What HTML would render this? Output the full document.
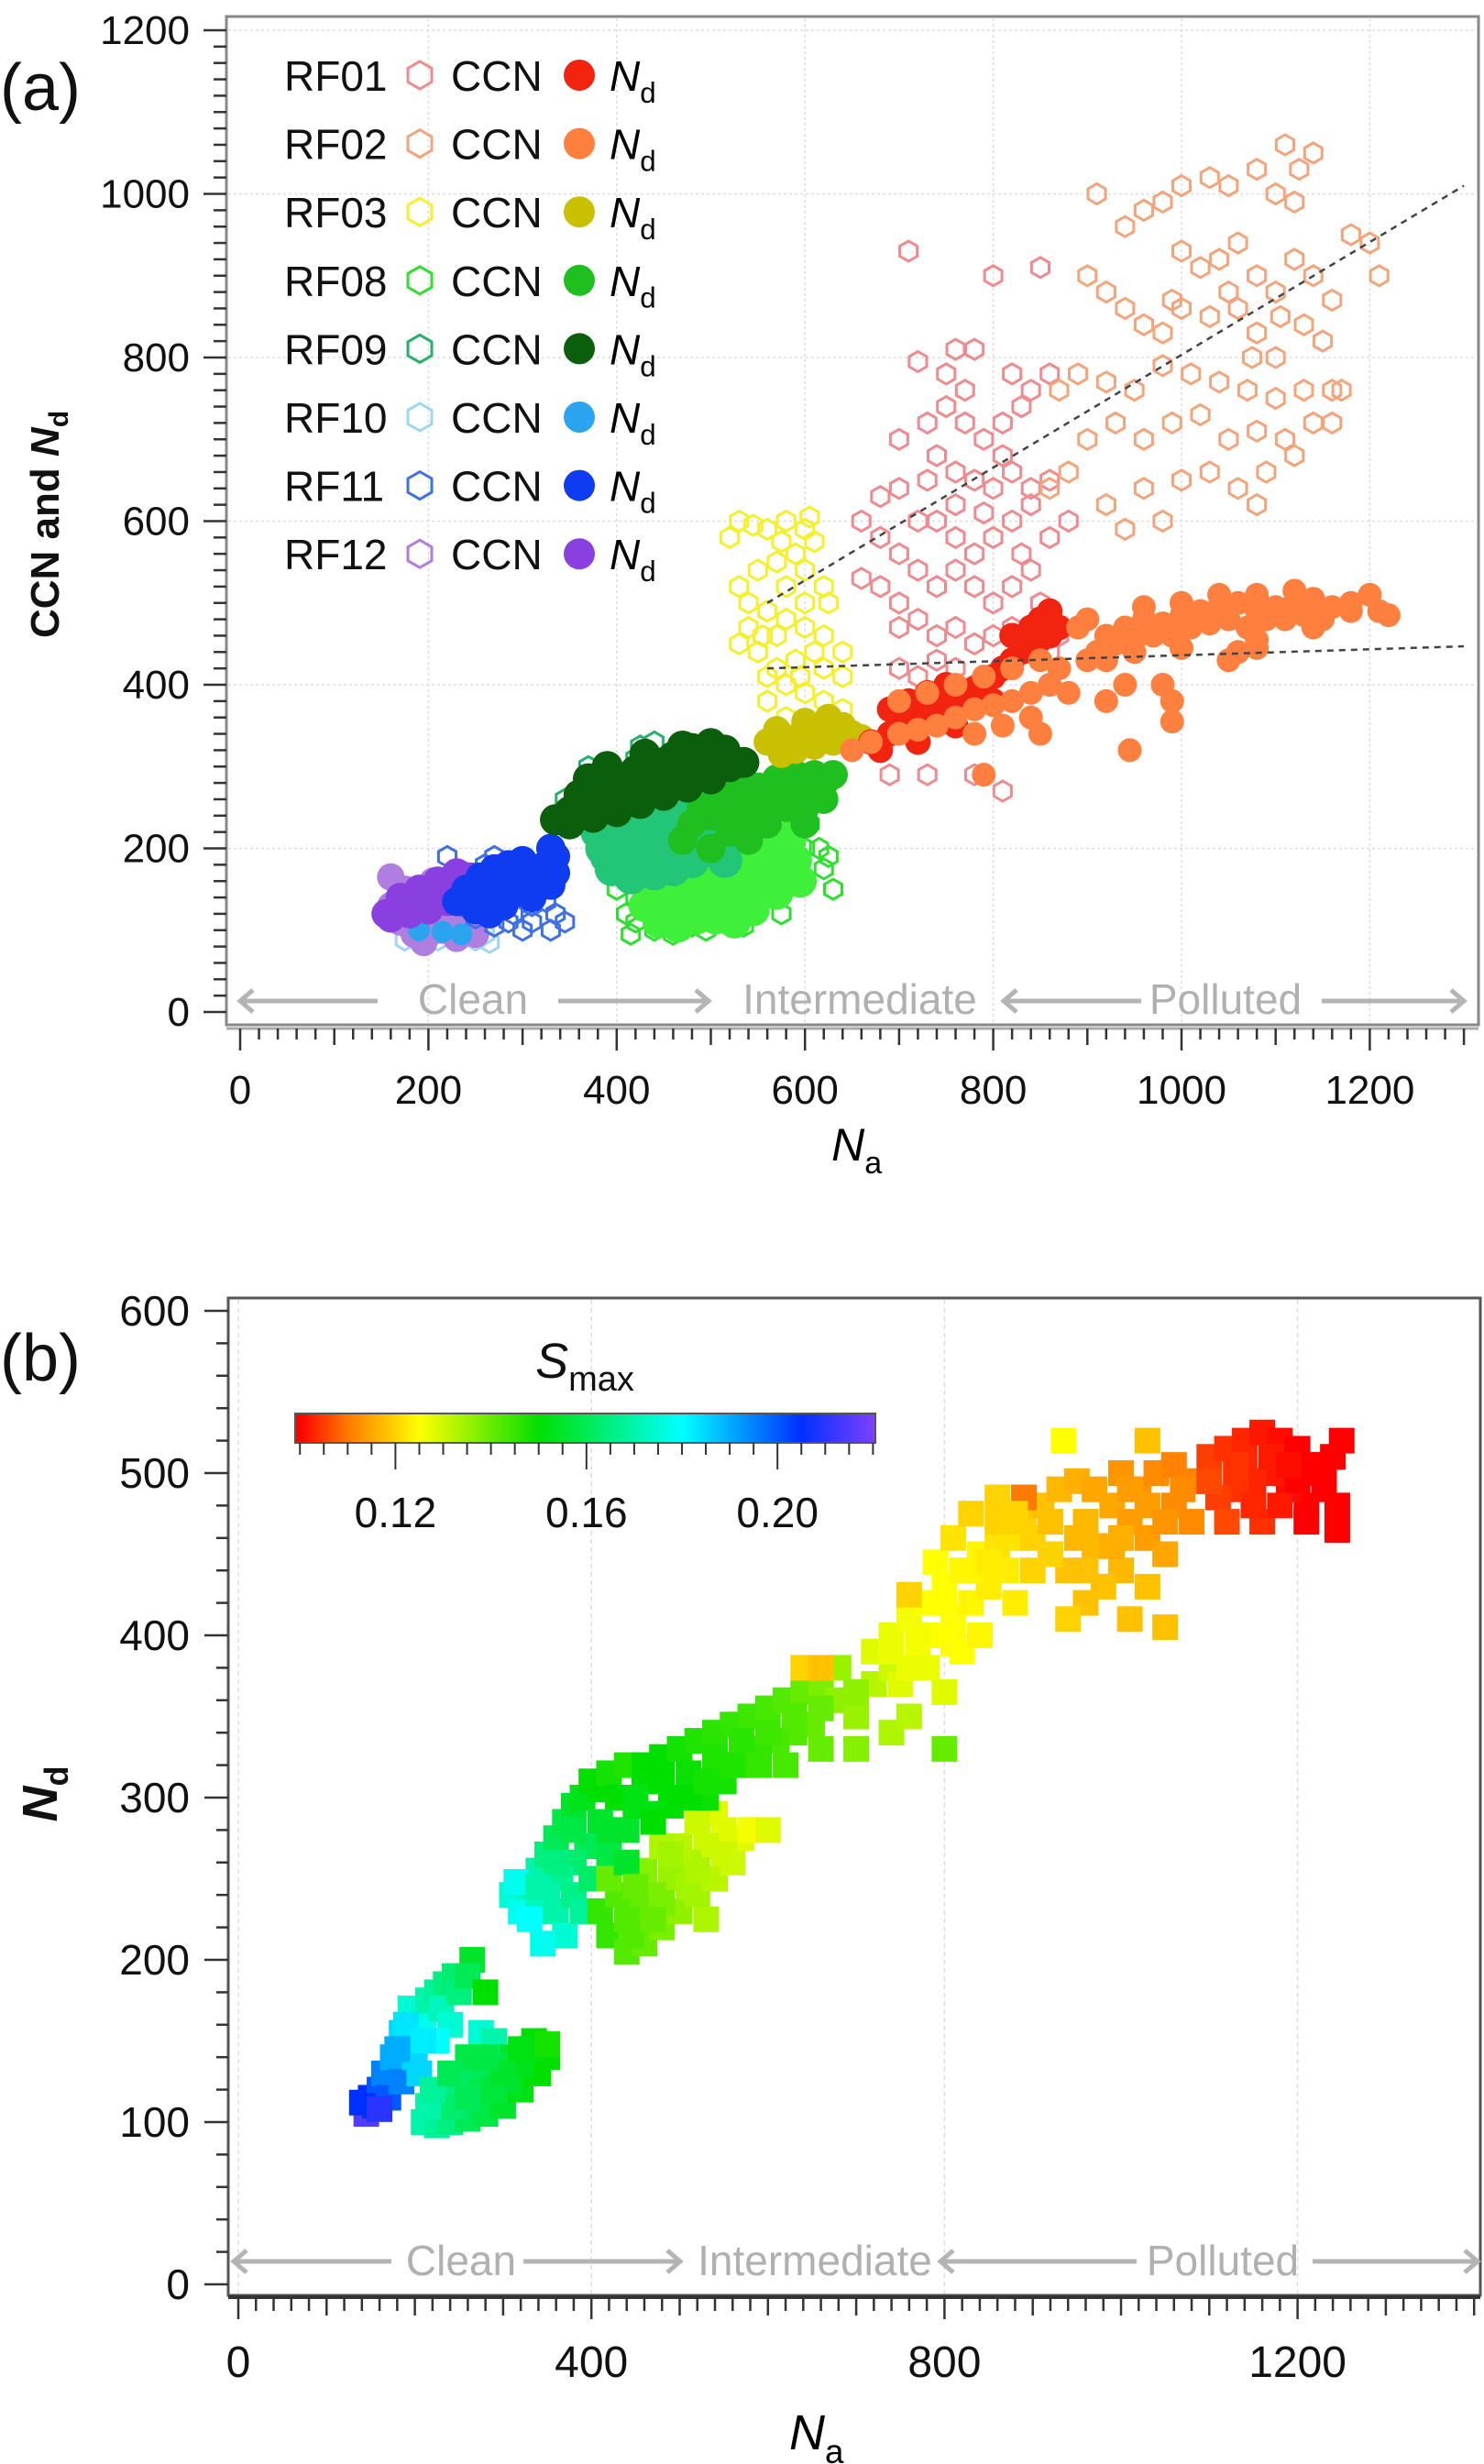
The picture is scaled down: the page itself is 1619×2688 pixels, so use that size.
<!DOCTYPE html>
<html><head><meta charset="utf-8"><style>
html,body{margin:0;padding:0;background:#fff;}
svg{display:block;font-family:"Liberation Sans",sans-serif;}
</style></head><body>
<svg id="fig" width="1619" height="2688" viewBox="0 0 1619 2688" xmlns="http://www.w3.org/2000/svg">
<rect width="1619" height="2688" fill="#fff"/>
<g id="pa"></g>
<g id="pb"></g>
</svg>
<script>
// ---------- Panel (a) data ----------
const aXTicks=[0,200,400,600,800,1000,1200];
const aYTicks=[0,200,400,600,800,1000,1200];
const legendRuns=["RF01","RF02","RF03","RF08","RF09","RF10","RF11","RF12"];
const rf12CCN=[[160,165],[175,150],[190,140],[200,120],[215,100],[185,95],[170,110],[230,90],[240,110],[205,160],[225,140],[250,95],[195,85],[160,130],[180,125],[210,130],[185,105],[200,95],[215,115],[230,105],[245,100],[190,115]];
const rf10CCN=[[175,88],[190,90],[210,88],[230,92],[250,88],[260,95],[200,100],[240,100],[180,100],[265,85]];
const rf10Nd=[[190,100],[215,98],[235,95]];
const rf11CCN=[[220,190],[240,170],[260,180],[280,175],[300,160],[320,150],[335,120],[330,100],[310,110],[290,120],[270,105],[250,115],[235,130],[255,140],[345,110],[300,180],[270,190],[320,180],[310,130],[325,135],[285,110],[300,100]];
const rf11Nd=[[230,135],[245,140],[255,150],[265,155],[275,160],[285,165],[295,170],[305,172],[315,175],[325,180],[335,190],[330,200],[260,130],[275,140],[290,145],[305,155],[320,160],[240,150],[255,165],[270,175],[285,180],[300,185],[250,125],[280,130],[310,140],[265,120],[335,170],[330,155]];
const rf12Nd=[[155,120],[165,125],[175,130],[185,135],[195,140],[205,145],[215,150],[225,155],[235,160],[245,165],[170,140],[190,150],[210,160],[180,120],[200,125],[220,135],[240,145],[160,115],[230,170],[250,150]];
const rf09Nd=[[335,235],[350,245],[365,250],[380,255],[395,265],[410,270],[425,280],[440,285],[455,295],[470,300],[485,310],[500,315],[515,320],[360,265],[380,275],[400,285],[420,295],[440,305],[460,312],[480,322],[500,328],[350,230],[375,238],[400,245],[425,255],[450,265],[475,275],[500,285],[520,300],[390,300],[430,315],[470,325],[535,305],[370,285]];
const rf09CCN=[[390,190],[410,180],[430,185],[450,190],[470,200],[490,210],[510,220],[520,240],[500,250],[480,245],[460,240],[440,230],[420,220],[400,215],[390,240],[410,250],[430,260],[450,265],[470,270],[490,275],[510,270],[420,200],[440,210],[460,215],[480,225],[500,230],[400,270],[380,220],[460,175],[505,200],[395,175],[525,260],[385,200],[415,165],[440,170],[480,185],[515,185],[530,220],[380,250]];
const rf09CCNopen=[[345,260],[425,325],[420,310],[370,300],[440,330]];
const rf08CCN=[[420,110],[440,100],[460,95],[480,105],[500,110],[520,120],[540,130],[560,140],[580,150],[600,160],[620,175],[615,200],[625,190],[600,200],[580,190],[560,170],[540,160],[520,150],[500,140],[480,130],[460,120],[440,130],[420,140],[400,150],[410,120],[470,150],[510,170],[550,190],[590,210],[430,160],[490,160],[530,180],[570,200],[605,230],[590,245],[450,115],[495,100],[535,105],[415,95],[575,120],[630,150]];
const rf08Dense=[[430,130],[450,140],[470,150],[490,155],[510,165],[530,175],[550,185],[570,195],[440,160],[460,170],[480,180],[500,190],[520,200],[540,205],[455,120],[475,125],[495,130],[515,140],[535,150],[555,160],[575,170],[465,105],[505,115],[585,215],[560,215],[590,185],[595,160],[545,125],[525,110],[485,115],[445,110],[570,145]];
const rf08Nd=[[480,230],[500,240],[520,250],[540,255],[560,260],[580,270],[600,275],[620,280],[610,290],[590,290],[570,285],[550,275],[530,270],[510,260],[490,250],[520,220],[560,230],[600,250],[540,240],[580,250],[630,290],[470,210],[500,200],[540,210],[620,260],[600,230]];
const rf03CCN=[[530,600],[545,595],[560,590],[580,600],[600,590],[610,575],[590,560],[570,550],[550,540],[530,520],[540,500],[560,490],[580,480],[600,470],[620,460],[610,440],[590,430],[570,420],[550,440],[530,450],[560,410],[580,400],[600,390],[620,380],[640,370],[620,420],[640,410],[600,500],[620,520],[600,540],[580,520],[560,380],[580,360],[600,350],[540,470],[570,460],[595,410],[625,500],[640,440],[520,580],[575,575],[605,605],[555,460],[615,355],[640,345]];
const rf03Nd=[[560,330],[580,335],[600,340],[620,345],[640,350],[650,340],[630,330],[610,325],[590,320],[575,315],[600,355],[625,360],[645,330],[660,335],[570,345],[615,335]];
const rf01CCN=[[710,930],[800,900],[850,910],[760,810],[780,810],[720,795],[700,700],[730,720],[750,740],[770,720],[790,700],[810,720],[830,740],[840,760],[820,780],[860,780],[740,680],[760,660],[780,650],[800,640],[820,660],[840,640],[860,650],[680,630],[700,640],[720,600],[740,600],[760,580],[780,560],[800,580],[820,600],[840,620],[700,560],[720,540],[740,520],[760,540],[780,520],[800,500],[820,520],[840,540],[660,530],[680,520],[700,500],[720,480],[740,460],[760,470],[780,450],[800,460],[820,470],[840,450],[860,440],[740,430],[720,410],[760,420],[780,400],[700,420],[690,290],[730,290],[780,290],[810,270],[680,580],[870,460],[850,500],[880,600],[660,600],[770,760],[750,780],[810,680],[830,560],[760,620],[790,610],[730,650],[700,470],[860,580]];
const rf01Nd=[[670,330],[690,340],[700,350],[710,360],[720,370],[730,360],[740,370],[750,380],[760,390],[770,385],[780,395],[790,400],[800,410],[810,420],[820,430],[830,440],[840,450],[850,455],[860,460],[870,470],[860,490],[850,480],[840,470],[820,460],[690,370],[710,380],[730,390],[750,400],[680,320],[720,330],[760,350],[800,380]];
const rf02Nd=[[650,320],[670,330],[700,340],[720,345],[740,350],[760,360],[780,370],[800,375],[820,380],[840,390],[860,400],[700,380],[730,390],[760,400],[790,410],[820,420],[850,430],[780,340],[810,350],[840,360],[790,290],[850,340],[870,420],[890,470],[900,480],[920,460],[940,470],[960,480],[980,475],[1000,485],[1020,490],[1040,495],[1060,500],[1080,490],[1100,495],[1120,500],[1140,505],[1160,495],[1180,500],[1200,510],[1210,490],[1220,485],[910,440],[930,450],[950,455],[970,460],[990,460],[1010,470],[1030,475],[1050,480],[1070,470],[1090,480],[1110,480],[1130,485],[1150,480],[1000,500],[1040,510],[1080,510],[1120,515],[960,495],[900,430],[920,430],[950,440],[1000,445],[1060,440],[1080,445],[1050,430],[940,400],[980,400],[990,380],[920,380],[880,390],[945,320],[990,355],[1080,455],[1180,490],[1140,470]];
const rf02CCN=[[910,1000],[940,960],[960,980],[980,990],[1000,1010],[1030,1020],[1050,1010],[1080,1030],[1100,1000],[1110,1060],[1125,1030],[1140,1050],[1120,990],[1000,930],[1020,910],[1040,920],[1060,940],[1080,900],[1100,880],[1120,920],[1140,900],[1160,870],[1180,950],[1200,940],[1210,900],[900,900],[920,880],[940,860],[960,840],[980,830],[1000,860],[1030,850],[1060,860],[1080,830],[1100,800],[1130,840],[1150,820],[1170,760],[1130,760],[1100,750],[1070,760],[1040,770],[1010,780],[980,790],[950,760],[920,770],[890,780],[870,760],[900,700],[930,720],[960,700],[990,720],[1020,730],[1050,700],[1080,710],[1110,700],[1140,720],[1160,760],[1000,650],[1030,660],[1060,640],[1090,660],[1120,680],[1080,620],[980,600],[940,590],[920,620],[960,640],[880,660],[860,640],[990,870],[1050,880],[1075,800],[1105,850],[1160,720]];
const fitUpper=[[560,500],[1300,1010]];
const fitLower=[[560,420],[1300,447]];

// ---------- Panel (b) data ----------
const bXTicks=[0,400,800,1200];
const bYTicks=[0,100,200,300,400,500,600];
const cbTicks=[0.12,0.16,0.20];
const bNa=[145,140,150,160,155,170,165,180,175,190,185,200,210,195,215,225,235,245,265,230,250,170,185,200,215,260,280,275,290,160,205,240,225,
210,225,240,260,280,300,320,340,350,330,310,290,270,250,230,215,245,275,305,335,260,290,320,220,350,240,
310,320,330,340,350,360,370,380,390,400,410,420,440,430,410,395,380,365,350,340,360,380,400,420,440,450,460,370,330,390,315,345,
410,420,440,460,480,500,520,540,560,570,550,530,510,490,470,450,430,460,500,540,520,580,600,420,480,445,530,
460,480,500,520,540,560,580,600,620,640,660,680,700,720,740,650,630,610,590,570,550,530,510,490,470,620,660,700,740,760,680,640,660,
720,740,760,780,800,820,840,860,880,770,790,810,830,850,870,750,780,800,820,840,760,790,810,830,860,800,880,
890,910,930,950,970,990,1010,1030,1050,1000,980,960,940,920,900,950,970,990,1020,1040,1060,1000,1060,1080,1080,940,1030,1050,1010,935,1030,890,
1100,1120,1140,1160,1180,1200,1220,1240,1250,1230,1210,1190,1170,1150,1130,1110,1120,1160,1200,1140,1180,1245,1245,1210,1100,
420,450,480,510,540,570,600,630,660,700,470,500,530,560,590,440,360,340,380,
450,480,510,490,470,550,520,440,
740,770,800,830,860,810,760,850,880,900,
920,960,1000,1030,960,1010,1050,1070,
1130,1170,1210,1190,1150,1230,
190,210,180,260,300,280,320];
const bNd=[105,112,115,120,110,125,130,130,140,145,155,160,165,170,175,180,185,190,200,170,180,115,125,140,150,190,180,155,150,108,130,160,150,
100,98,100,102,105,110,120,130,140,145,140,135,130,125,115,110,110,118,125,150,140,120,135,120,148,130,
240,230,245,255,265,275,285,295,300,310,305,315,320,300,285,270,260,250,240,230,230,240,250,265,280,295,310,215,225,230,248,210,
230,215,205,210,220,230,240,250,260,275,280,270,260,250,240,230,240,255,270,290,285,280,280,250,270,215,225,
320,325,330,335,340,345,350,355,360,365,370,360,350,370,380,345,340,335,330,320,310,300,300,295,290,320,330,330,340,350,380,380,380,
390,400,410,420,430,440,450,455,460,390,400,410,420,430,440,370,380,365,390,400,425,445,460,475,485,330,420,
470,480,490,495,490,480,470,460,450,440,430,420,440,450,440,460,455,455,490,500,505,500,480,470,495,410,430,405,410,520,520,485,
510,515,520,525,520,515,505,510,520,490,480,490,500,495,490,485,470,470,495,505,480,465,480,470,495,
280,300,310,315,325,335,340,350,355,365,285,300,310,320,320,260,260,245,280,
245,235,245,265,225,265,255,225,
390,400,420,440,470,395,380,445,475,460,
470,470,460,480,440,490,470,490,
505,510,500,505,480,505,
160,150,145,115,130,140,145];
const bSmax=[.215,.205,.205,.2,.205,.2,.195,.195,.19,.185,.185,.18,.178,.175,.17,.168,.165,.163,.155,.172,.165,.2,.195,.185,.18,.16,.15,.175,.17,.21,.185,.175,.18,
.17,.168,.165,.16,.158,.155,.152,.15,.15,.152,.155,.158,.16,.162,.165,.17,.163,.158,.155,.15,.158,.157,.153,.168,.148,.16,
.175,.178,.172,.17,.165,.16,.158,.155,.153,.15,.15,.148,.147,.15,.155,.16,.163,.167,.17,.172,.17,.166,.162,.158,.155,.152,.15,.175,.18,.168,.178,.178,
.145,.145,.142,.14,.138,.136,.134,.132,.13,.128,.128,.13,.133,.135,.138,.14,.142,.137,.132,.128,.13,.126,.128,.14,.133,.142,.133,
.15,.15,.148,.147,.146,.145,.144,.143,.142,.14,.138,.136,.135,.132,.13,.14,.142,.143,.145,.146,.148,.149,.15,.15,.152,.143,.14,.137,.133,.132,.135,.12,.118,
.128,.127,.126,.125,.125,.124,.124,.122,.122,.126,.125,.125,.124,.123,.123,.128,.127,.128,.125,.124,.12,.125,.122,.12,.12,.14,.123,
.12,.118,.117,.116,.115,.115,.114,.114,.115,.117,.118,.118,.118,.12,.12,.117,.117,.116,.113,.112,.111,.113,.112,.112,.111,.12,.118,.118,.118,.125,.118,.11,
.105,.104,.103,.102,.101,.1,.1,.1,.1,.1,.1,.101,.102,.103,.104,.105,.106,.104,.1,.103,.102,.1,.1,.1,.106,
.155,.152,.15,.149,.147,.146,.144,.142,.14,.136,.15,.15,.148,.147,.145,.155,.165,.17,.158,
.14,.138,.134,.134,.14,.13,.133,.142,
.127,.126,.125,.124,.12,.125,.127,.123,.12,.12,
.118,.117,.116,.114,.118,.114,.113,.112,
.104,.102,.1,.101,.103,.1,
.183,.182,.19,.16,.155,.158,.152];
const cmapVals=[0.10,0.11,0.125,0.15,0.18,0.205,0.22];
const cmapCols=[[255,0,0],[255,122,0],[255,255,0],[0,224,0],[0,255,255],[0,48,255],[122,64,255]];

// ---------- helpers ----------
const NS="http://www.w3.org/2000/svg";
function mk(parent,tag,attrs,text){const e=document.createElementNS(NS,tag);for(const k in attrs)e.setAttribute(k,attrs[k]);if(text!==undefined)e.textContent=text;parent.appendChild(e);return e;}
function hexPts(cx,cy,r){let p=[];for(let i=0;i<6;i++){const a=Math.PI/3*i+Math.PI/6;p.push((cx+r*Math.cos(a)).toFixed(1)+","+(cy+r*Math.sin(a)).toFixed(1));}return p.join(" ");}
function ndLabel(parent,x,y,size,sub,anchor,name){
  const t=mk(parent,"text",{x:x,y:y,"font-size":size,"text-anchor":anchor||"start",fill:"#000"});
  
  
  mk(t,"tspan",{"font-style":"italic"},"N");
  mk(t,"tspan",{"font-size":size*0.68,dy:size*0.28},sub);
  return t;
}
function arrow(parent,x1,x2,y,name){
  const g=mk(parent,"g",{});
  
  
  mk(g,"line",{x1:x1,y1:y,x2:x2,y2:y,stroke:"#b4b4b4","stroke-width":5});
  const d=x2>x1?-1:1;
  mk(g,"polyline",{points:`${x2+d*14},${y-12} ${x2},${y} ${x2+d*14},${y+12}`,fill:"none",stroke:"#b4b4b4","stroke-width":5});
}
function cmap(s){
  if(s<=cmapVals[0])return `rgb(${cmapCols[0]})`;
  for(let i=1;i<cmapVals.length;i++){if(s<=cmapVals[i]){const f=(s-cmapVals[i-1])/(cmapVals[i]-cmapVals[i-1]);const c=cmapCols[i-1].map((v,j)=>Math.round(v+(cmapCols[i][j]-v)*f));return `rgb(${c})`;}}
  return `rgb(${cmapCols[cmapCols.length-1]})`;
}

// ---------- Panel (a) ----------
const pa=document.getElementById("pa");
const xa=v=>262+v*1.027, ya=v=>1104-v*0.8925;
let e=mk(pa,"rect",{x:247,y:18,width:1366,height:1100,fill:"none",stroke:"#888","stroke-width":3});


aXTicks.slice(1).forEach(v=>{mk(pa,"line",{x1:xa(v),y1:20,x2:xa(v),y2:1116,stroke:"#ddd","stroke-width":1.5,"stroke-dasharray":"3,3"});});
aYTicks.slice(1).forEach(v=>{mk(pa,"line",{x1:249,y1:ya(v),x2:1611,y2:ya(v),stroke:"#ddd","stroke-width":1.5,"stroke-dasharray":"3,3"});});
for(let v=0;v<=1200;v+=20){const major=v%200===0;mk(pa,"line",{x1:major?222:233,y1:ya(v),x2:247,y2:ya(v),stroke:"#333","stroke-width":2.5});}
aYTicks.forEach(v=>{const t=mk(pa,"text",{x:207,y:ya(v)+15,"font-size":44,"text-anchor":"end",fill:"#111"},String(v));});
mk(pa,"line",{x1:247,y1:1122,x2:1613,y2:1122,stroke:"#aaa","stroke-width":3});
for(let v=0;v<=1300;v+=20){const major=v%200===0;const mid=v%100===0;mk(pa,"line",{x1:xa(v),y1:1122,x2:xa(v),y2:major?1146:(mid?1140:1134),stroke:"#333","stroke-width":2.5});}
aXTicks.forEach(v=>{const t=mk(pa,"text",{x:xa(v),y:1204,"font-size":44,"text-anchor":"middle",fill:"#111"},String(v));});
ndLabel(pa,xa(655),1266,50,"a","middle","x-axis-title-a");
const yt=mk(pa,"text",{x:0,y:0,"font-size":44,"font-weight":"bold","text-anchor":"middle",transform:"translate(64,572) rotate(-90)",fill:"#111"});


mk(yt,"tspan",{},"CCN and ");mk(yt,"tspan",{"font-style":"italic"},"N");mk(yt,"tspan",{"font-size":30,dy:10},"d");
e=mk(pa,"text",{x:0,y:120,"font-size":72,fill:"#111"},"(a)");


arrow(pa,412,262,1092,"clean-left-arrow");arrow(pa,609,773,1092,"clean-right-arrow");
arrow(pa,1245,1095,1092,"polluted-left-arrow");arrow(pa,1442,1597,1092,"polluted-right-arrow");
[["Clean",516],["Intermediate",938],["Polluted",1337]].forEach(([s,x])=>{const t=mk(pa,"text",{x:x,y:1106,"font-size":46,"text-anchor":"middle",fill:"#b0b0b0"},s);});
function hexSeries(arr,col,name){const g=mk(pa,"g",{});arr.forEach(p=>{mk(g,"polygon",{points:hexPts(xa(p[0]),ya(p[1]),11),fill:"none",stroke:col,"stroke-width":3});});}
function dotSeries(arr,col,r,name){const g=mk(pa,"g",{});arr.forEach(p=>{mk(g,"circle",{cx:xa(p[0]),cy:ya(p[1]),r:r,fill:col});});}
hexSeries(rf01CCN,"#ef8a8f","rf01-ccn-series");
hexSeries(rf02CCN,"#f4a47a","rf02-ccn-series");
hexSeries(rf03CCN,"#f6ef2a","rf03-ccn-series");
hexSeries(rf08CCN,"#2ee02e","rf08-ccn-series");
dotSeries(rf08Dense,"#3ff03a",18,"rf08-ccn-dense");
dotSeries(rf09CCN,"#22c676",19,"rf09-ccn-dense");
hexSeries(rf09CCNopen,"#26b06a","rf09-ccn-series");
hexSeries(rf10CCN,"#9fd6f4","rf10-ccn-series");
dotSeries(rf12CCN,"#b07ee0",15,"rf12-ccn-dense");
hexSeries(rf11CCN,"#4070e6","rf11-ccn-series");
dotSeries(rf10Nd,"#2aa4ee",12,"rf10-nd-series");
dotSeries(rf12Nd,"#8a3fe0",16,"rf12-nd-series");
dotSeries(rf11Nd,"#0f3cf0",16,"rf11-nd-series");
dotSeries(rf08Nd,"#1fbf1f",16,"rf08-nd-series");
dotSeries(rf09Nd,"#0b5e0b",17,"rf09-nd-series");
dotSeries(rf03Nd,"#c8c000",15,"rf03-nd-series");
dotSeries(rf01Nd,"#f2230f",14,"rf01-nd-series");
dotSeries(rf02Nd,"#ff7f3f",13,"rf02-nd-series");
[fitUpper,fitLower].forEach((f,i)=>{const l=mk(pa,"line",{x1:xa(f[0][0]),y1:ya(f[0][1]),x2:xa(f[1][0]),y2:ya(f[1][1]),stroke:"#444","stroke-width":2.5,"stroke-dasharray":"7,6"});});
const legHex=["#ef8a8f","#f4a47a","#f6ef2a","#2ee02e","#26b06a","#9fd6f4","#4070e6","#b07ee0"];
const legDot=["#f2230f","#ff7f3f","#c8c000","#1fbf1f","#0b5e0b","#2aa4ee","#0f3cf0","#8a3fe0"];
legendRuns.forEach((r,i)=>{
  const y=82+i*74.6;
  const g=mk(pa,"g",{});
  
  
  mk(g,"text",{x:310,y:y+17,"font-size":46,fill:"#111"},r);
  mk(g,"polygon",{points:hexPts(458,y,15),fill:"none",stroke:legHex[i],"stroke-width":3});
  mk(g,"text",{x:492,y:y+17,"font-size":46,fill:"#111"},"CCN");
  mk(g,"circle",{cx:632,cy:y,r:17,fill:legDot[i]});
  ndLabel(g,665,y+17,46,"d","start","legend-nd-label");
});

// ---------- Panel (b) ----------
const pb=document.getElementById("pb");
const xb=v=>260+v*0.963, yb=v=>2492-v*1.77;
e=mk(pb,"rect",{x:249,y:1416,width:1366,height:1088,fill:"none",stroke:"#555","stroke-width":3});


bXTicks.forEach(v=>{mk(pb,"line",{x1:xb(v),y1:1418,x2:xb(v),y2:2502,stroke:"#ddd","stroke-width":1.5,"stroke-dasharray":"5,4"});});
for(let v=0;v<=600;v+=20){const major=v%100===0;mk(pb,"line",{x1:major?223:236,y1:yb(v),x2:249,y2:yb(v),stroke:"#333","stroke-width":2.5});}
bYTicks.forEach(v=>{const t=mk(pb,"text",{x:207,y:yb(v)+16,"font-size":46,"text-anchor":"end",fill:"#111"},String(v));});
mk(pb,"line",{x1:249,y1:2506,x2:1615,y2:2506,stroke:"#333","stroke-width":4});
for(let v=0;v<=1400;v+=20){const major=v%400===0;const mid=v%100===0;mk(pb,"line",{x1:xb(v),y1:2506,x2:xb(v),y2:major?2530:(mid?2526:2521),stroke:"#333","stroke-width":2.5});}
bXTicks.forEach(v=>{const t=mk(pb,"text",{x:xb(v),y:2593,"font-size":48,"text-anchor":"middle",fill:"#111"},String(v));});
ndLabel(pb,xb(655),2672,54,"a","middle","x-axis-title-b");
const yt2=mk(pb,"text",{x:0,y:0,"font-size":54,"font-weight":"bold","text-anchor":"middle",transform:"translate(62,1957) rotate(-90)",fill:"#111"});


mk(yt2,"tspan",{"font-style":"italic"},"N");mk(yt2,"tspan",{"font-size":36,dy:12},"d");
e=mk(pb,"text",{x:0,y:1506,"font-size":72,fill:"#111"},"(b)");


arrow(pb,427,255,2467,"clean-left-arrow-b");arrow(pb,571,742,2467,"clean-right-arrow-b");
arrow(pb,1240,1026,2467,"polluted-left-arrow-b");arrow(pb,1432,1612,2467,"polluted-right-arrow-b");
[["Clean",503],["Intermediate",889],["Polluted",1334]].forEach(([s,x])=>{const t=mk(pb,"text",{x:x,y:2482,"font-size":46,"text-anchor":"middle",fill:"#b0b0b0"},s);});
const sq=mk(pb,"g",{});


bNa.forEach((na,i)=>{mk(sq,"rect",{x:xb(na)-14,y:yb(bNd[i])-14,width:28,height:28,fill:cmap(bSmax[i])});});
const cbx=v=>322+(v-0.099)/(0.2205-0.099)*633;
const defs=mk(document.getElementById("fig"),"defs",{});
const lg=mk(defs,"linearGradient",{id:"cbg",x1:0,x2:1,y1:0,y2:0});
cmapVals.forEach((v,i)=>{mk(lg,"stop",{offset:((cbx(v)-322)/633).toFixed(3),"stop-color":`rgb(${cmapCols[i]})`});});
e=mk(pb,"rect",{x:322,y:1542,width:633,height:32,fill:"url(#cbg)",stroke:"#555","stroke-width":2});


for(let k=0;k<=24;k++){const v=0.1+k*0.005;if(v>0.2205)break;const major=cbTicks.some(t=>Math.abs(t-v)<1e-6);mk(pb,"line",{x1:cbx(v),y1:1574,x2:cbx(v),y2:major?1603:1587,stroke:"#333","stroke-width":2});}
cbTicks.forEach(v=>{const t=mk(pb,"text",{x:cbx(v),y:1666,"font-size":46,"text-anchor":"middle",fill:"#111"},v.toFixed(2));});
const st=mk(pb,"text",{x:638,y:1503,"font-size":54,"text-anchor":"middle",fill:"#111"});


mk(st,"tspan",{"font-style":"italic"},"S");mk(st,"tspan",{"font-size":38,dy:14},"max");
</script>
</body></html>
